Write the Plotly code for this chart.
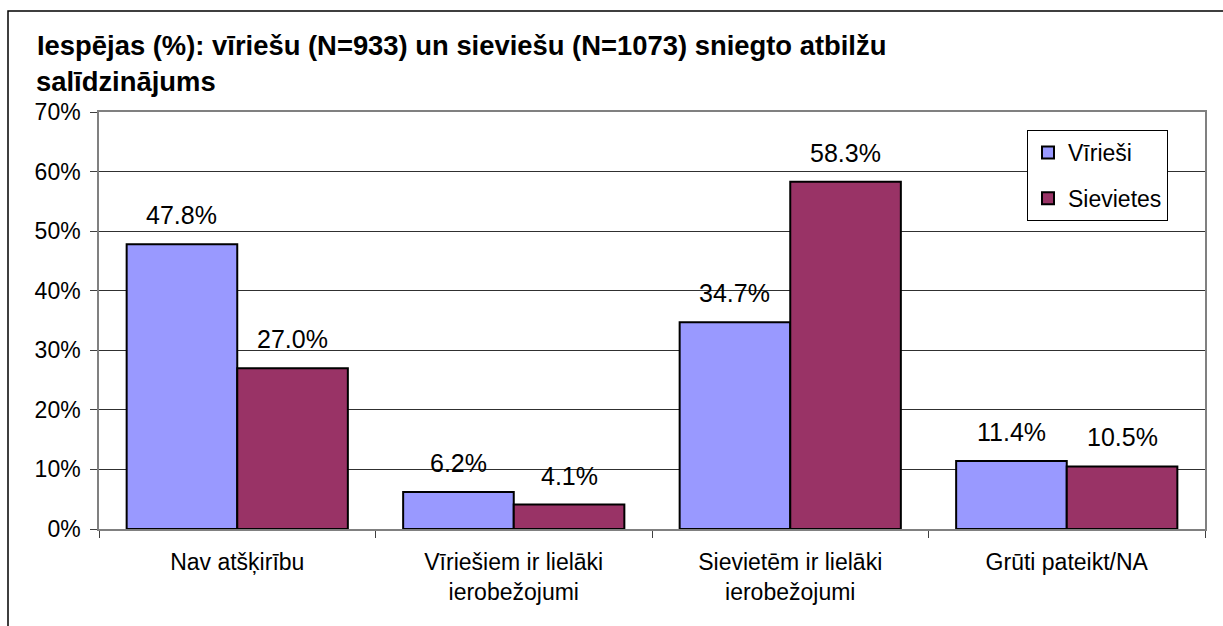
import plotly.graph_objects as go

categories = ["Nav atšķirību", "Vīriešiem ir lielāki<br>ierobežojumi",
              "Sievietēm ir lielāki<br>ierobežojumi", "Grūti pateikt/NA"]
series_names = ["Vīrieši", "Sievietes"]
men_values = [47.8, 6.2, 34.7, 11.4]
women_values = [27.0, 4.1, 58.3, 10.5]
y_ticks = [0, 10, 20, 30, 40, 50, 60, 70]
title_line1 = "Iespējas (%): vīriešu (N=933) un sieviešu (N=1073) sniegto atbilžu"
title_line2 = "salīdzinājums"

colors = ["#9999FF", "#993366"]
FONT = "Arial, Liberation Sans, sans-serif"

W, H = 1223, 626
L, R, T, B = 99, 18, 112, 97
PW, PH = W - L - R, H - T - B

def px_x(px):
    return (px - L) / PW

def px_y(py):
    return (H - B - py) / PH

fig = go.Figure()
for name, vals, col in zip(series_names, [men_values, women_values], colors):
    fig.add_trace(go.Bar(
        x=categories, y=vals, name=name, legendgroup=name,
        marker=dict(color=col, line=dict(color="black", width=2)),
    ))

annotations = []
offsets = [-0.2, 0.2]
for vals, off in zip([men_values, women_values], offsets):
    for i, v in enumerate(vals):
        annotations.append(dict(
            x=i + off, y=v, xref="x", yref="y", text=f"{v:.1f}%",
            showarrow=False, yanchor="middle", yshift=29,
            font=dict(family=FONT, size=25, color="black"),
        ))

annotations.append(dict(
    x=px_x(34), y=px_y(81), xref="paper", yref="paper", text=title_line2,
    showarrow=False, xanchor="left", yanchor="middle",
    font=dict(family=FONT, size=27.4, color="black", weight="bold"),
))

fig.update_layout(
    width=W, height=H,
    margin=dict(l=L, r=R, t=T, b=B),
    paper_bgcolor="white", plot_bgcolor="white",
    barmode="group", bargap=0.2, bargroupgap=0,
    font=dict(family=FONT, size=23, color="black"),
    title=dict(text=title_line1, xref="container", yref="container",
               x=37 / W, y=1 - 45 / H, xanchor="left", yanchor="middle",
               font=dict(family=FONT, size=27.4, color="black", weight="bold")),
    showlegend=True,
    legend=dict(x=px_x(1027), y=px_y(130), xanchor="left", yanchor="top",
                bordercolor="black", borderwidth=1, bgcolor="white",
                font=dict(family=FONT, size=23, color="black"),
                tracegroupgap=13, itemwidth=30, traceorder="grouped"),
    annotations=annotations,
    shapes=[dict(type="rect", xref="paper", yref="paper",
                 x0=px_x(8), x1=1.2, y0=-0.6, y1=px_y(11),
                 line=dict(color="black", width=1.5), fillcolor="rgba(0,0,0,0)",
                 layer="below")],
)

fig.update_xaxes(
    type="category", showline=True, linecolor="#808080", linewidth=1.5, mirror=True,
    ticks="outside", tickson="boundaries", ticklen=7, tickcolor="#404040",
    showgrid=False, ticklabelstandoff=12,
    tickfont=dict(family=FONT, size=23, color="black"),
)
fig.update_yaxes(
    range=[0, 70], tickvals=y_ticks, ticktext=[f"{t}%" for t in y_ticks],
    showline=True, linecolor="#808080", linewidth=1.5, mirror=True,
    ticks="outside", ticklen=7, tickcolor="#404040",
    showgrid=True, gridcolor="#303030", gridwidth=1, zeroline=False,
    ticklabelstandoff=5,
    tickfont=dict(family=FONT, size=23, color="black"),
)

fig.write_html("out.html", config={"displayModeBar": False},
               post_script="document.body.style.margin='0';document.body.style.overflow='hidden';")
